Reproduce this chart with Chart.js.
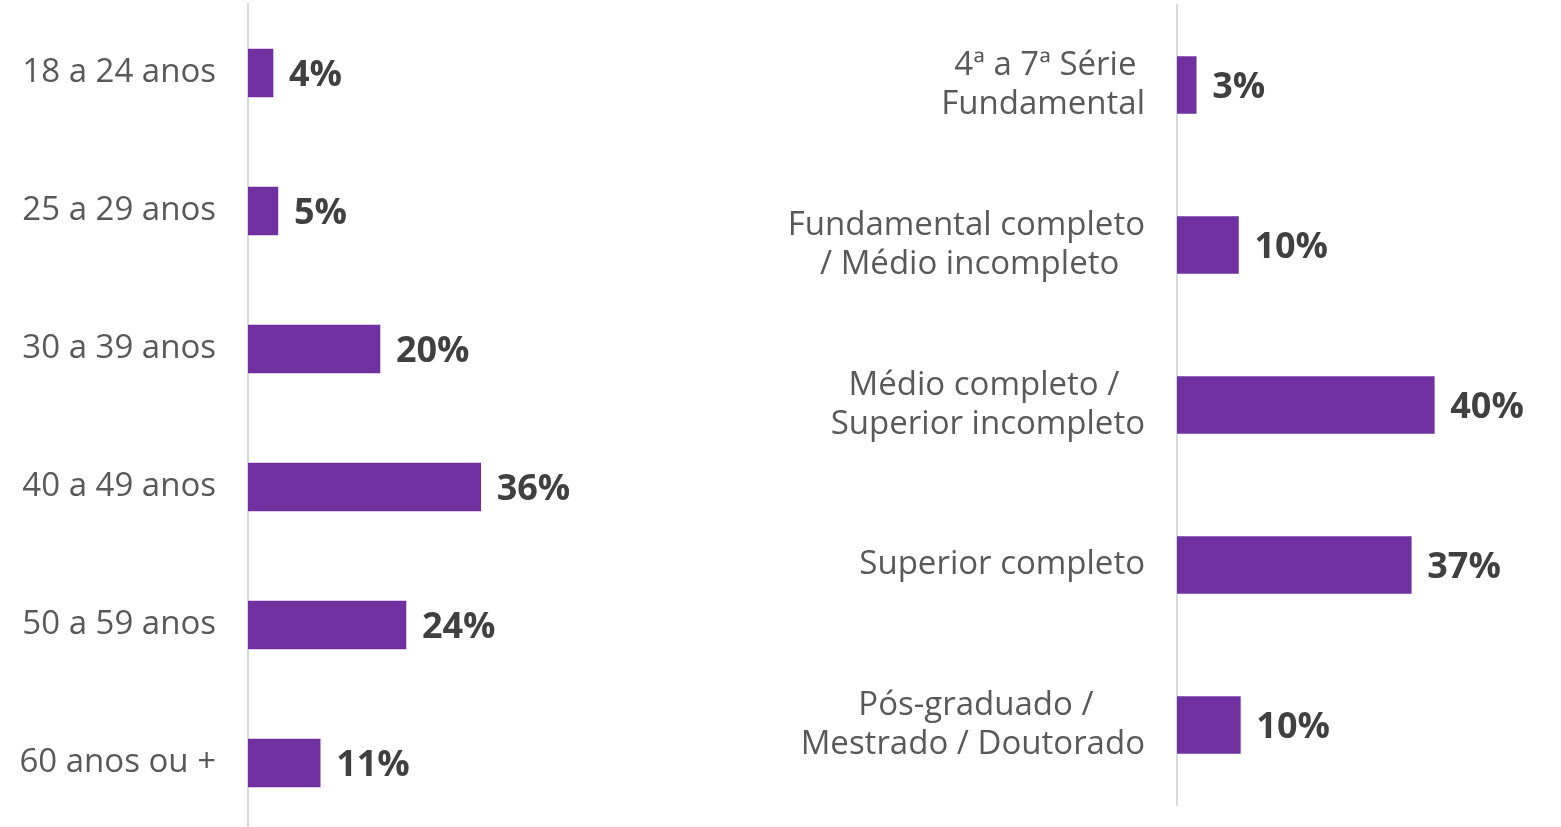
<!DOCTYPE html>
<html>
<head>
<meta charset="utf-8">
<script src="https://cdn.jsdelivr.net/npm/chart.js@4"></script>
<style>
  html, body { margin: 0; padding: 0; background: #fff; overflow: hidden; width: 1561px; height: 827px; }
  #ageChart { position: absolute; left: 0; top: 0; }
  #eduChart { position: absolute; left: 703px; top: 0; }
</style>
</head>
<body>
<canvas id="ageChart" width="703" height="836"></canvas>
<canvas id="eduChart" width="858" height="827"></canvas>
<script>
// age groups (left chart)
const ageCategories = ['18 a 24 anos', '25 a 29 anos', '30 a 39 anos', '40 a 49 anos', '50 a 59 anos', '60 anos ou +'];
const ageValues = [3.85, 4.6, 20.3, 35.8, 24.3, 11.1];

// schooling (right chart)
const eduCategories = [
    ['4ª a 7ª Série', 'Fundamental'],
    ['Fundamental completo', '/ Médio incompleto'],
    ['Médio completo /', 'Superior incompleto'],
    'Superior completo',
    ['Pós-graduado /', 'Mestrado / Doutorado']
];
const eduValues = [3.0, 9.6, 40.2, 36.6, 9.9];

const FONT = '"Open Sans", "DejaVu Sans", sans-serif';
const TICK_SIZE = 33;
const BAR_COLOR = '#7030A0';

// keep lines of a multi-line label centred on each other
const measureCtx = document.createElement('canvas').getContext('2d');
function centerLines(label) {
    if (!Array.isArray(label)) return label;
    measureCtx.font = TICK_SIZE + 'px ' + FONT;
    const widths = label.map(l => measureCtx.measureText(l).width);
    const widest = Math.max(...widths);
    const space = measureCtx.measureText(' ').width;
    return label.map((l, i) => l + ' '.repeat(Math.round((widest - widths[i]) / 2 / space)));
}

const valueLabels = {
    id: 'valueLabels',
    afterDatasetsDraw(chart) {
        const ctx = chart.ctx;
        const meta = chart.getDatasetMeta(0);
        const data = chart.data.datasets[0].data;
        ctx.save();
        ctx.font = 'bold 36px ' + FONT;
        ctx.fillStyle = '#404040';
        ctx.textAlign = 'left';
        ctx.textBaseline = 'middle';
        meta.data.forEach((bar, i) => {
            ctx.fillText(Math.round(data[i]) + '%', bar.x + 16, bar.y + 3);
        });
        ctx.restore();
    }
};

function makeChart(id, labels, values, axisWidth, xMax, thickness, padding) {
    const ctx = document.getElementById(id).getContext('2d');
    return new Chart(ctx, {
        type: 'bar',
        data: {
            labels: labels,
            datasets: [{
                data: values,
                backgroundColor: BAR_COLOR,
                barThickness: thickness
            }]
        },
        options: {
            indexAxis: 'y',
            responsive: false,
            animation: false,
            layout: { padding: padding },
            plugins: { legend: { display: false }, tooltip: { enabled: false } },
            scales: {
                x: { display: false, min: 0, max: xMax },
                y: {
                    grid: { display: false, drawTicks: false },
                    border: { color: '#D9D9D9', width: 2 },
                    ticks: {
                        padding: 32,
                        color: '#595959',
                        font: { family: FONT, size: TICK_SIZE, lineHeight: 1.18 },
                        callback: function(value) {
                            return centerLines(this.getLabelForValue(value));
                        }
                    },
                    afterFit(scale) {
                        scale.width = axisWidth;
                        // labels may overhang: don't shrink the plot for them
                        scale.paddingTop = 0;
                        scale.paddingBottom = 0;
                    }
                }
            }
        },
        plugins: [valueLabels]
    });
}

makeChart('ageChart', ageCategories, ageValues, 248, 70, 48, { top: 4, bottom: 4, left: 0, right: 0 });
makeChart('eduChart', eduCategories, eduValues, 474, 60, 57, { top: 5, bottom: 22, left: 0, right: 0 });
</script>
</body>
</html>
